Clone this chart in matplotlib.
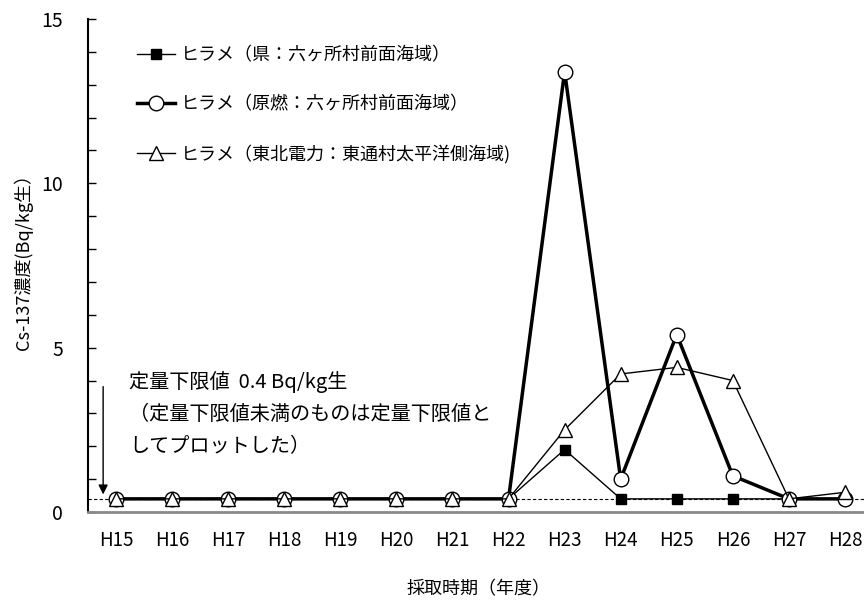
import numpy as np
import matplotlib.pyplot as plt
from matplotlib.ticker import MultipleLocator

plt.rcParams['font.family'] = ['Noto Sans CJK JP', 'DejaVu Sans']

# データ
years = ['H15', 'H16', 'H17', 'H18', 'H19', 'H20', 'H21',
         'H22', 'H23', 'H24', 'H25', 'H26', 'H27', 'H28']
ken = [0.4, 0.4, 0.4, 0.4, 0.4, 0.4, 0.4, 0.4, 1.9, 0.4, 0.4, 0.4, 0.4, 0.4]
gennen = [0.4, 0.4, 0.4, 0.4, 0.4, 0.4, 0.4, 0.4, 13.4, 1.0, 5.4, 1.1, 0.4, 0.4]
tohoku = [0.4, 0.4, 0.4, 0.4, 0.4, 0.4, 0.4, 0.4, 2.5, 4.2, 4.4, 4.0, 0.4, 0.6]
lower_limit = 0.4

x = np.arange(len(years))

fig = plt.figure(figsize=(8.64, 6.01), dpi=100)
ax = fig.add_axes([88 / 864, 89 / 601, 785 / 864, 493 / 601])

ax.axhline(lower_limit, color='black', lw=0.8, ls=(0, (3, 2)), zorder=1)

ax.plot(x, ken, color='black', lw=1.0, marker='s', ms=7.5,
        mfc='black', mec='black', label='ヒラメ（県：六ヶ所村前面海域）', zorder=3)
ax.plot(x, gennen, color='black', lw=2.5, marker='o', ms=10.5,
        mfc='white', mec='black', mew=1.0,
        label='ヒラメ（原燃：六ヶ所村前面海域）', zorder=4)
ax.plot(x, tohoku, color='black', lw=1.0, marker='^', ms=10.5,
        mfc='white', mec='black', mew=1.0,
        label='ヒラメ（東北電力：東通村太平洋側海域)', zorder=5)

ax.set_xlim(-0.5, len(years) - 0.5)
ax.set_ylim(0, 15)
ax.set_xticks(x)
ax.set_xticklabels(years, fontsize=13.5)
ax.yaxis.set_major_locator(MultipleLocator(5))
ax.yaxis.set_minor_locator(MultipleLocator(1))
ax.tick_params(axis='y', which='both', direction='in', length=6, width=1,
               labelsize=14, pad=18)
ax.tick_params(axis='x', length=0, pad=13)

for s in ['top', 'right']:
    ax.spines[s].set_visible(False)
ax.spines['left'].set_linewidth(1.5)
ax.spines['bottom'].set_color('#888888')
ax.spines['bottom'].set_linewidth(2)

ax.set_ylabel('Cs-137濃度(Bq/kg生）', fontsize=13)
ax.yaxis.set_label_coords(-55 / 785, (512 - 257) / 493)
ax.set_xlabel('採取時期（年度）', fontsize=13)
ax.xaxis.set_label_coords((479 - 88) / 785, -68 / 493)

ax.legend(loc='upper left', bbox_to_anchor=(0.042, 0.978), frameon=False,
          fontsize=13, labelspacing=1.72, handlelength=2.1, handletextpad=0.3)

ax.text(0.23, 4.3, '定量下限値  0.4 Bq/kg生\n（定量下限値未満のものは定量下限値と\nしてプロットした）',
        fontsize=14.5, va='top', ha='left', linespacing=1.7)
ax.annotate('', xy=(-0.23, 0.45), xytext=(-0.23, 3.9),
            arrowprops=dict(arrowstyle='-|>', color='black', lw=1,
                            mutation_scale=14))

fig.savefig('out.png', dpi=100)
